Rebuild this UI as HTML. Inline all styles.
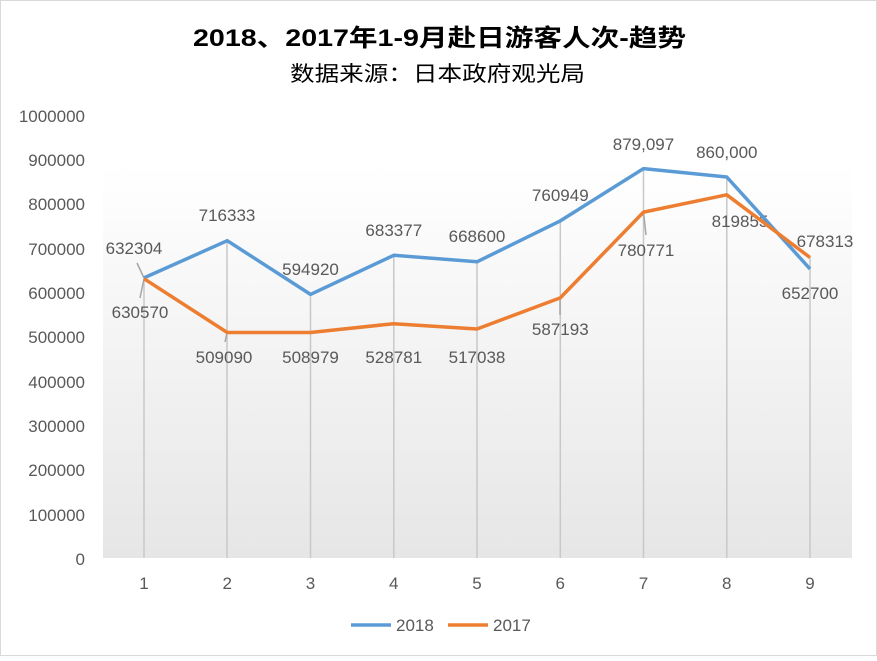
<!DOCTYPE html>
<html><head><meta charset="utf-8"><style>
body{margin:0;background:#fff}
svg text{font-family:"Liberation Sans","Noto Sans CJK SC",sans-serif}
</style></head><body>
<svg width="877" height="656" xmlns="http://www.w3.org/2000/svg">
<defs><linearGradient id="g" x1="0" y1="0" x2="0" y2="1"><stop offset="0" stop-color="#fff"/><stop offset="1" stop-color="#e6e6e6"/></linearGradient></defs>
<rect x="0.5" y="0.5" width="876" height="655" fill="#fff" stroke="#d9d9d9"/>
<rect x="103" y="165" width="749" height="393" fill="url(#g)"/>
<text x="193" y="46" textLength="493" lengthAdjust="spacingAndGlyphs" font-size="24" font-weight="bold" fill="#000">2018、2017年1-9月赴日游客人次-趋势</text>
<text x="290" y="81" textLength="295" lengthAdjust="spacingAndGlyphs" font-size="21" fill="#000">数据来源：日本政府观光局</text>
<g font-size="17" fill="#595959" text-anchor="end">
<text x="85" y="122">1000000</text><text x="85" y="166">900000</text><text x="85" y="210">800000</text><text x="85" y="255">700000</text><text x="85" y="299">600000</text><text x="85" y="343">500000</text><text x="85" y="388">400000</text><text x="85" y="432">300000</text><text x="85" y="476">200000</text><text x="85" y="521">100000</text><text x="85" y="565">0</text>
</g>
<g stroke="#c8c8c8" stroke-width="1.5">
<line x1="144" y1="278" x2="144" y2="558"/><line x1="227" y1="241" x2="227" y2="558"/><line x1="310.5" y1="294" x2="310.5" y2="558"/><line x1="393.8" y1="255" x2="393.8" y2="558"/><line x1="477" y1="262" x2="477" y2="558"/><line x1="560.3" y1="221" x2="560.3" y2="558"/><line x1="643.5" y1="169" x2="643.5" y2="558"/><line x1="726.8" y1="177" x2="726.8" y2="558"/><line x1="810" y1="257" x2="810" y2="558"/>
</g>
<g stroke="#a6a6a6" stroke-width="1.5">
<line x1="137" y1="263" x2="144" y2="278"/><line x1="144" y1="279" x2="140" y2="298"/><line x1="227" y1="333" x2="225" y2="342"/><line x1="560" y1="298" x2="560" y2="315"/><line x1="643.5" y1="212" x2="646" y2="235"/>
</g>
<g font-size="17" fill="#595959" text-anchor="middle">
<text x="227" y="221">716333</text><text x="310.5" y="275">594920</text><text x="393.8" y="236">683377</text><text x="477" y="242">668600</text><text x="560.3" y="201">760949</text><text x="643.5" y="150">879,097</text><text x="726.8" y="158">860,000</text><text x="810" y="299">652700</text>
<text x="134" y="254">632304</text><text x="140" y="318">630570</text>
<text x="224" y="363">509090</text><text x="310.5" y="363">508979</text><text x="393.8" y="363">528781</text><text x="477" y="363">517038</text><text x="560.3" y="335">587193</text><text x="646" y="256">780771</text><text x="740" y="227">819855</text><text x="825" y="247">678313</text>
</g>
<polyline fill="none" stroke="#5b9bd5" stroke-width="3.5" stroke-linejoin="round" points="144,277.9 227.25,240.7 310.5,294.4 393.75,255.3 477,261.8 560.25,220.9 643.5,168.6 726.75,177 810,268.9"/>
<polyline fill="none" stroke="#ed7d31" stroke-width="3.5" stroke-linejoin="round" points="144,278.7 227.25,332.5 310.5,332.5 393.75,323.7 477,329 560.25,297.9 643.5,212.1 726.75,194.8 810,257.5"/>
<g font-size="17" fill="#595959" text-anchor="middle">
<text x="144" y="589">1</text><text x="227.25" y="589">2</text><text x="310.5" y="589">3</text><text x="393.75" y="589">4</text><text x="477" y="589">5</text><text x="560.25" y="589">6</text><text x="643.5" y="589">7</text><text x="726.75" y="589">8</text><text x="810" y="589">9</text>
</g>
<line x1="351" y1="625" x2="391" y2="625" stroke="#5b9bd5" stroke-width="3.5"/>
<text x="396" y="631" font-size="17" fill="#595959">2018</text>
<line x1="448" y1="625" x2="488" y2="625" stroke="#ed7d31" stroke-width="3.5"/>
<text x="493" y="631" font-size="17" fill="#595959">2017</text>
</svg>
</body></html>
